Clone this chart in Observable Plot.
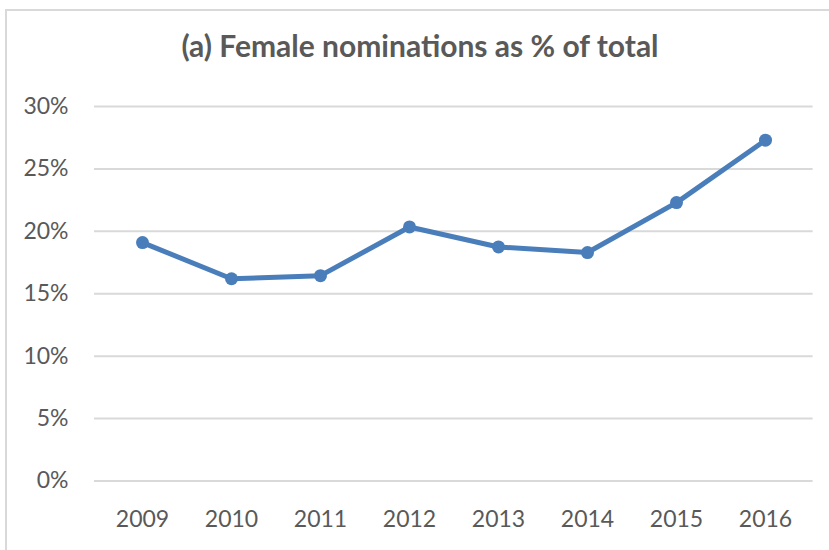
<!DOCTYPE html>
<html>
<head>
<meta charset="utf-8">
<script src="https://cdn.jsdelivr.net/npm/d3@7"></script>
<script src="https://cdn.jsdelivr.net/npm/@observablehq/plot@0.6"></script>
<style>
  html, body { margin: 0; padding: 0; background: #fff; }
  #wrap { position: relative; width: 829px; height: 550px; overflow: hidden; font-family: Lato, "Open Sans", sans-serif; }
  #frame { position: absolute; left: 5px; top: 9px; width: 900px; height: 600px; border-left: 2px solid #d9d9d9; border-top: 2px solid #d9d9d9; box-sizing: border-box; }
  #title { position: absolute; left: 0; width: 840px; top: 26.5px; text-align: center; font-weight: bold; font-size: 30px; color: #595959; white-space: nowrap; line-height: 36px; }
  #chart { position: absolute; left: 0; top: 0; }
</style>
</head>
<body>
<div id="wrap">
  <div id="frame"></div>
  <div id="chart"></div>
  <div id="title">(a) Female nominations as % of total</div>
</div>
<script>
const years = ["2009", "2010", "2011", "2012", "2013", "2014", "2015", "2016"];
const femaleShare = [19.1, 16.2, 16.45, 20.35, 18.75, 18.3, 22.3, 27.3];
const yTicks = [0, 5, 10, 15, 20, 25, 30];

const data = years.map((y, i) => ({year: y, value: femaleShare[i]}));
const blue = "#4a7ebb";

const chart = Plot.plot({
  width: 829,
  height: 550,
  marginLeft: 94,
  marginRight: 16.4,
  marginTop: 106,
  marginBottom: 69.5,
  style: {fontFamily: "Lato, 'Open Sans', sans-serif", fontSize: "23px", color: "#595959", background: "transparent", overflow: "visible"},
  x: {type: "point", domain: years, padding: 0.5, label: null},
  y: {domain: [0, 30], label: null},
  marks: [
    Plot.gridY(yTicks, {stroke: "#d9d9d9", strokeWidth: 2, strokeOpacity: 1}),
    Plot.axisY(yTicks, {tickSize: 0, tickPadding: 26, tickFormat: d => d + "%", label: null, fill: "#595959", fontSize: 23}),
    Plot.axisX(years, {tickSize: 0, tickPadding: 29.5, label: null, fill: "#595959", fontSize: 23}),
    Plot.line(data, {x: "year", y: "value", stroke: blue, strokeWidth: 5, strokeLinejoin: "round", strokeLinecap: "round"}),
    Plot.dot(data, {x: "year", y: "value", r: 6.5, fill: blue, stroke: "none"})
  ]
});
document.getElementById("chart").appendChild(chart);
</script>
</body>
</html>
